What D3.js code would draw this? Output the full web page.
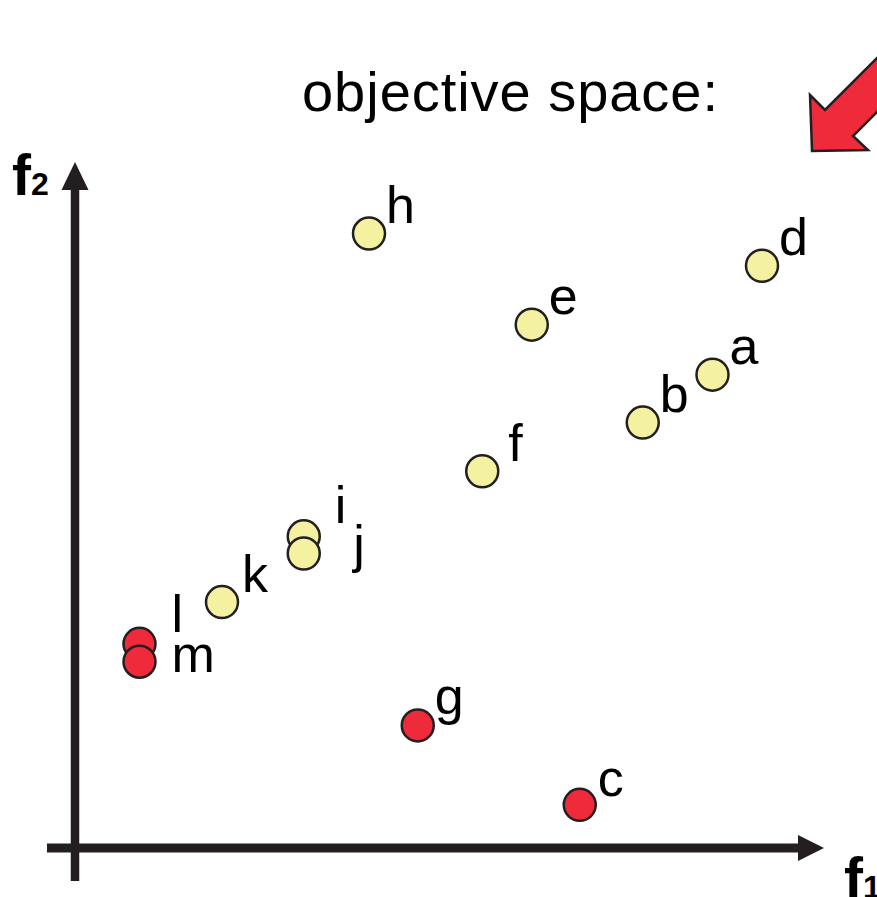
<!DOCTYPE html>
<html>
<head>
<meta charset="utf-8">
<script src="https://cdn.jsdelivr.net/npm/d3@7/dist/d3.min.js"></script>
<style>
  html, body { margin: 0; padding: 0; background: #fff; }
  svg { display: block; }
</style>
</head>
<body>
<svg id="chart" width="877" height="897"></svg>
<script>
// Solutions in objective space (f1, f2), on a 0–100 scale for each objective
const labels = ["h", "d", "e", "a", "b", "f", "i", "j", "k", "l", "m", "g", "c"];
const f1 = [39.2, 91.6, 60.9, 85.0, 75.7, 54.3, 30.5, 30.5, 19.6, 8.6, 8.6, 45.7, 67.3];
const f2 = [89.7, 85.0, 76.4, 69.1, 62.1, 55.0, 45.5, 43.0, 35.9, 29.8, 27.2, 17.9, 6.3];
// true = non-dominated (front) solution, drawn in red
const front = [false, false, false, false, false, false, false, false, false, true, true, true, true];

const title = "objective space:";
const axisNames = [["f", "1"], ["f", "2"]];

const points = labels.map((name, i) => ({ name, f1: f1[i], f2: f2[i], front: front[i] }));

const RED = "#ee2a3b";
const YELLOW = "#f4f1a0";
const INK = "#231f20";
const FONT = "'Liberation Sans', Arial, Helvetica, sans-serif";

const svg = d3.select("#chart");

const x = d3.scaleLinear().domain([0, 100]).range([75, 825]);
const y = d3.scaleLinear().domain([0, 100]).range([848, 163]);

// Title
svg.append("text")
  .attr("x", 302).attr("y", 111)
  .attr("font-family", FONT).attr("font-size", 56)
  .attr("textLength", 416).attr("lengthAdjust", "spacing")
  .attr("fill", "#000")
  .text(title);

// Big red pointer arrow in the upper-right corner
const arrowPath = d3.path();
arrowPath.moveTo(810, 95);
arrowPath.lineTo(825, 110);
arrowPath.lineTo(905, 30);
arrowPath.lineTo(905, 84);
arrowPath.lineTo(853, 136);
arrowPath.lineTo(868, 150);
arrowPath.lineTo(812, 151);
arrowPath.closePath();
svg.append("path")
  .attr("d", arrowPath.toString())
  .attr("fill", RED)
  .attr("stroke", INK)
  .attr("stroke-width", 2.5)
  .attr("stroke-linejoin", "miter");

// Axes: thick shafts with triangular heads
const axes = svg.append("g");
const x0 = x(0), y0 = y(0);
axes.append("line")
  .attr("x1", x0).attr("x2", x0)
  .attr("y1", 881).attr("y2", y(100) + 26)
  .attr("stroke", INK).attr("stroke-width", 8.5);
axes.append("path")
  .attr("d", `M${x0 - 13.5},${y(100) + 27} L${x0},${y(100) - 1} L${x0 + 13.5},${y(100) + 27} Z`)
  .attr("fill", INK);

axes.append("line")
  .attr("x1", 47).attr("x2", x(100) - 26)
  .attr("y1", y0).attr("y2", y0)
  .attr("stroke", INK).attr("stroke-width", 9);
axes.append("path")
  .attr("d", `M${x(100) - 27},${y0 - 13} L${x(100) - 1},${y0} L${x(100) - 27},${y0 + 13} Z`)
  .attr("fill", INK);

// Axis names
function axisName(px, py, parts) {
  const t = svg.append("text")
    .attr("x", px).attr("y", py)
    .attr("font-family", FONT).attr("font-weight", "bold")
    .attr("fill", "#000");
  t.append("tspan").attr("font-size", 57).text(parts[0]);
  t.append("tspan").attr("font-size", 32).attr("dx", 0).text(parts[1]);
}
axisName(844, 898, axisNames[0]);
axisName(12, 195, axisNames[1]);

// Points
const R = 16;
svg.append("g").selectAll("circle")
  .data(points)
  .join("circle")
  .attr("cx", d => x(d.f1))
  .attr("cy", d => y(d.f2))
  .attr("r", R)
  .attr("fill", d => d.front ? RED : YELLOW)
  .attr("stroke", INK)
  .attr("stroke-width", 2.5);

// Point labels, set to the upper right; stacked pairs get their own placement
const labelShift = {
  i: [31, -13.5], j: [49.5, 8.5],
  l: [32, -12], m: [32, 10],
  f: [26, -10], k: [20, -10], c: [18, -9]
};
svg.append("g").selectAll("text")
  .data(points)
  .join("text")
  .attr("x", d => x(d.f1) + (labelShift[d.name] ? labelShift[d.name][0] : 17))
  .attr("y", d => y(d.f2) + (labelShift[d.name] ? labelShift[d.name][1] : -11))
  .attr("font-family", FONT).attr("font-size", 52)
  .attr("fill", "#000")
  .text(d => d.name);
</script>
</body>
</html>
